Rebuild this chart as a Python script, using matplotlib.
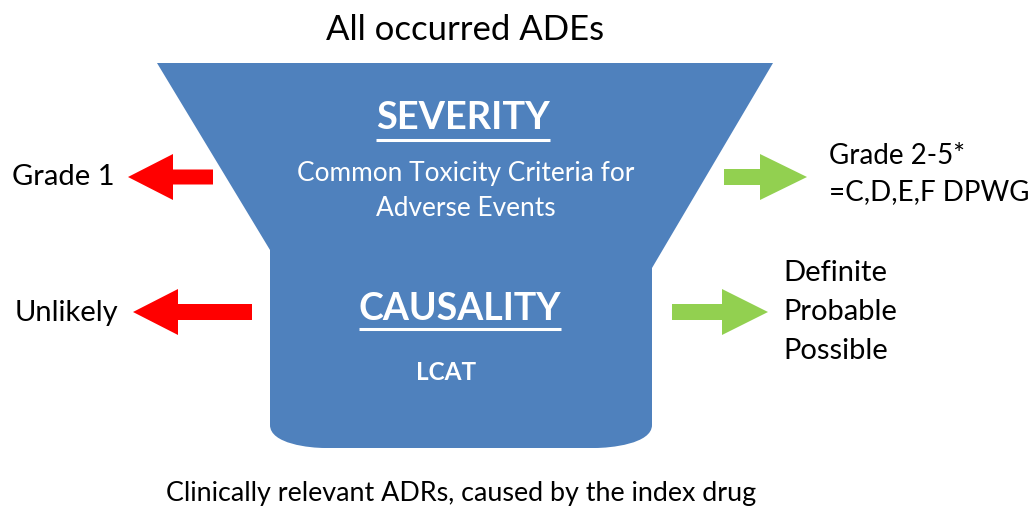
import matplotlib.pyplot as plt
from matplotlib.path import Path
from matplotlib.patches import PathPatch, Polygon

plt.rcParams["font.family"] = ["Lato", "DejaVu Sans"]

top_title = "All occurred ADEs"
bottom_title = "Clinically relevant ADRs, caused by the index drug"
stage_titles = ["SEVERITY", "CAUSALITY"]
stage_notes = ["Common Toxicity Criteria for\nAdverse Events", "LCAT"]
rejected = ["Grade 1", "Unlikely"]
accepted = [["Grade 2-5*", "=C,D,E,F DPWG"], ["Definite", "Probable", "Possible"]]

BLUE = "#4F81BD"
RED = "#FF0000"
GREEN = "#92D050"

fig = plt.figure(figsize=(10.32, 5.08), dpi=100)
ax = fig.add_axes([0, 0, 1, 1])
ax.set_xlim(0, 1032)
ax.set_ylim(508, 0)
ax.axis("off")

# funnel outline in pixel space (y down)
verts = [
    (157, 63), (773, 63), (652, 268), (652, 425),
    (652, 444), (610, 448), (595, 448),
    (325, 448),
    (310, 448), (270, 444), (270, 425),
    (270, 250), (157, 63),
]
codes = [Path.MOVETO, Path.LINETO, Path.LINETO, Path.LINETO,
         Path.CURVE4, Path.CURVE4, Path.CURVE4,
         Path.LINETO,
         Path.CURVE4, Path.CURVE4, Path.CURVE4,
         Path.LINETO, Path.CLOSEPOLY]
ax.add_patch(PathPatch(Path(verts, codes), facecolor=BLUE, edgecolor="none"))


def block_arrow(x_tail, x_base, x_tip, yc, shaft_h, head_h, color):
    pts = [(x_tail, yc - shaft_h / 2), (x_base, yc - shaft_h / 2),
           (x_base, yc - head_h / 2), (x_tip, yc),
           (x_base, yc + head_h / 2), (x_base, yc + shaft_h / 2),
           (x_tail, yc + shaft_h / 2)]
    ax.add_patch(Polygon(pts, closed=True, facecolor=color, edgecolor="none"))


block_arrow(213, 173, 128, 177, 15, 46, RED)
block_arrow(252, 178, 133, 312, 16, 46, RED)
block_arrow(724, 760, 807, 177, 16, 46, GREEN)
block_arrow(672, 722, 768, 312, 16, 46, GREEN)

ax.text(465, 30, top_title, ha="center", va="center", fontsize=25)
ax.text(461, 493, bottom_title, ha="center", va="center", fontsize=19.4)

heads = []
heads.append(ax.text(463, 118, stage_titles[0], ha="center", va="center",
                     fontsize=27.4, fontweight="bold", color="white"))
heads.append(ax.text(460, 309, stage_titles[1], ha="center", va="center",
                     fontsize=27, fontweight="bold", color="white"))
ax.text(466, 191, stage_notes[0], ha="center", va="center", fontsize=18.9,
        color="white", linespacing=1.45)
ax.text(446, 372, stage_notes[1], ha="center", va="center", fontsize=17.5,
        fontweight="bold", color="white")

ax.text(12, 177, rejected[0], ha="left", va="center", fontsize=21)
ax.text(15, 313, rejected[1], ha="left", va="center", fontsize=21)
ax.text(829, 174, "\n".join(accepted[0]), ha="left", va="center", fontsize=20,
        linespacing=1.45)
ax.text(783, 312, "\n".join(accepted[1]), ha="left", va="center", fontsize=21,
        linespacing=1.6)

# underline the stage titles
fig.canvas.draw()
inv = ax.transData.inverted()
for t, y_line in zip(heads, [140, 329]):
    bb = t.get_window_extent()
    (x0, _), (x1, _) = inv.transform([(bb.x0, bb.y0), (bb.x1, bb.y1)])
    ax.plot([x0, x1], [y_line, y_line], color="white", lw=2.2,
            solid_capstyle="butt")

fig.savefig("out.png", dpi=100)
